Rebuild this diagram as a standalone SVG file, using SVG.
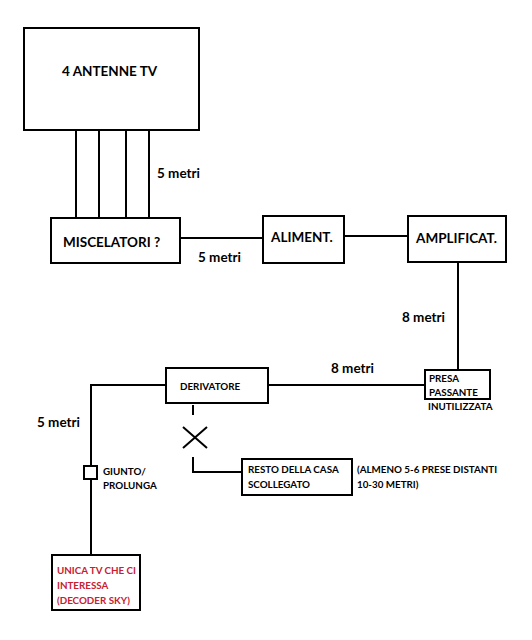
<svg xmlns="http://www.w3.org/2000/svg" width="532" height="640" viewBox="0 0 532 640">
<style>
.box{fill:#fff;stroke:#000;stroke-width:2}
.w{fill:none;stroke:#000;stroke-width:2}
.t{font-family:Lato,"Open Sans",sans-serif;font-weight:bold;font-size:13.5px;fill:#000}
.s{font-family:Lato,"Open Sans",sans-serif;font-weight:bold;font-size:9.8px;fill:#000}
.r{fill:#c8202e}
</style>
<rect width="532" height="640" fill="#fff"/>
<g id="connectors">
<path class="w" d="M76 130V218M99 130V218M126 130V218M149 130V218"/>
<path class="w" d="M180 238H263"/>
<path class="w" d="M344 236H408"/>
<path class="w" d="M458 262V370"/>
<path class="w" d="M268 385H425"/>
<path class="w" d="M166 385H91V555"/>
<path class="w" d="M193 405V415"/>
<path class="w" d="M183 427L207 448M207 427L183 448"/>
<path class="w" d="M193 457V472H242"/>
</g>
<g id="antenne"><rect class="box" x="24" y="28" width="175" height="102"/><text class="t" x="62" y="76">4 ANTENNE TV</text></g>
<g id="miscelatori"><rect class="box" x="51" y="218" width="129" height="45"/><text class="t" x="63" y="247">MISCELATORI ?</text></g>
<g id="aliment"><rect class="box" x="263" y="216" width="81" height="47"/><text class="t" x="271" y="242">ALIMENT.</text></g>
<g id="amplificat"><rect class="box" x="408" y="216" width="98" height="46"/><text class="t" x="416" y="243">AMPLIFICAT.</text></g>
<g id="presa"><rect class="box" x="425" y="370" width="65" height="29"/><text class="s" x="429" y="382">PRESA</text><text class="s" x="429" y="396">PASSANTE</text><text class="s" x="428" y="410">INUTILIZZATA</text></g>
<g id="derivatore"><rect class="box" x="166" y="368" width="102" height="35"/><text class="s" x="180" y="390">DERIVATORE</text></g>
<g id="resto"><rect class="box" x="242" y="459" width="110" height="36"/><text class="s" x="248" y="473">RESTO DELLA CASA</text><text class="s" x="248" y="488">SCOLLEGATO</text></g>
<g id="giunto"><rect class="box" x="84" y="466" width="13" height="13"/><text class="s" x="103" y="475">GIUNTO/</text><text class="s" x="103" y="489">PROLUNGA</text></g>
<g id="tv"><rect class="box" x="52" y="555" width="88" height="55"/><text class="s r" x="57" y="574">UNICA TV CHE CI</text><text class="s r" x="57" y="589">INTERESSA</text><text class="s r" x="57" y="604">(DECODER SKY)</text></g>
<g id="labels">
<text class="t" x="157" y="178">5 metri</text>
<text class="t" x="198" y="262">5 metri</text>
<text class="t" x="402" y="322">8 metri</text>
<text class="t" x="331" y="373">8 metri</text>
<text class="t" x="37" y="427">5 metri</text>
<text class="s" x="357" y="473">(ALMENO 5-6 PRESE DISTANTI</text>
<text class="s" x="357" y="488">10-30 METRI)</text>
</g>
</svg>
